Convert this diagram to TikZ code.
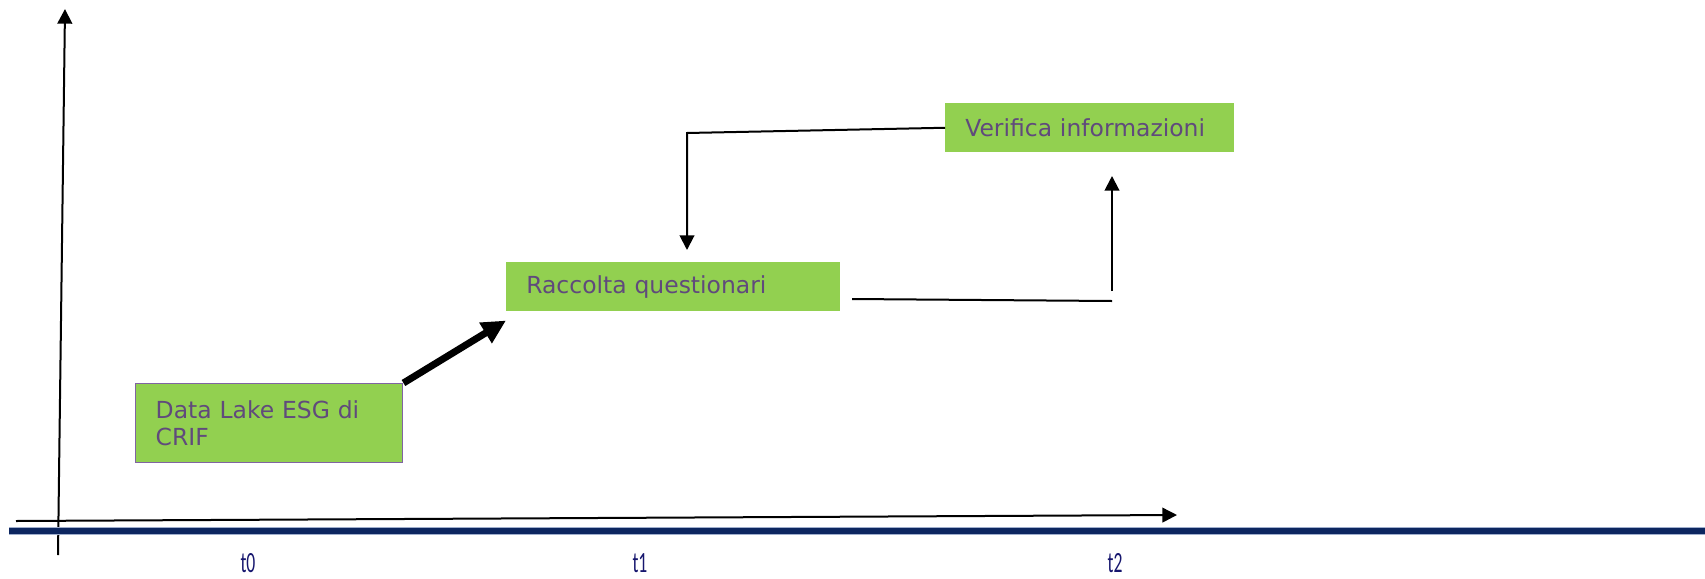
\documentclass[tikz,border=0pt]{standalone}
\usepackage{fontspec}
\setmainfont{DejaVu Sans}
\newfontfamily\labelfont{Carlito}
\usepackage{tikz}
\usetikzlibrary{positioning}
\usetikzlibrary{calc}
\usetikzlibrary{arrows.meta}
\definecolor{boxgreen}{RGB}{146,208,80}
\definecolor{boxtext}{RGB}{96,74,124}
\definecolor{boxborder}{RGB}{128,100,162}
\definecolor{barblue}{RGB}{12,38,96}
\definecolor{baredge}{RGB}{160,175,205}
\definecolor{tnavy}{RGB}{22,22,110}
\tikzset{
    every picture/.append style={
        >={Triangle[length=11pt,width=11pt]}
    }
}
\tikzset{
    stepbox/.style={fill=boxgreen, text=boxtext, anchor=north west, align=left,
        inner xsep=15pt, inner ysep=0pt, font=\fontsize{17.6}{20.25}\selectfont},
    thinarrow/.style={line width=1.5pt, ->},
    timelabel/.style={text=tnavy, anchor=base, inner sep=0pt, font=\labelfont\fontsize{22}{22}\selectfont},
}

\begin{document}
\begin{tikzpicture}[x=0.75pt, y=-0.75pt]
		\useasboundingbox (0,0) rectangle (1705,578);
		% boxes
		\node[stepbox, draw=boxborder, line width=1.1pt, minimum width=200.25pt, minimum height=59.25pt, text width=170.25pt] (datalake) at (135,383) {Data Lake ESG di\\CRIF};
		\node[stepbox, minimum width=250.5pt, minimum height=36.75pt, text width=220.5pt] (raccolta) at (506,262) {\raisebox{-2pt}{Raccolta questionari}};
		\node[stepbox, minimum width=216.75pt, minimum height=36.75pt, text width=186.75pt] (verifica) at (945,103) {\raisebox{-1pt}{Verifica informazioni}};
		
		% axes
		\coordinate (ybot) at (58,555);
		\coordinate (ytop) at (65,9);
		\coordinate (xleft) at (16,521);
		\coordinate (xright) at (1177,515);
		\draw[thinarrow] (ybot) -- (ytop);
		\draw[thinarrow] (xleft) -- (xright);
		\coordinate (barleft) at (9,531);
		\coordinate (barright) at (1705,531);
		\draw[baredge, line width=5.5pt] (barleft) -- (barright);
		\draw[barblue, line width=4pt] (barleft) -- (barright);
		
		% connectors
		\draw[line width=5.25pt, -{Triangle[length=18pt,width=17pt]}] (datalake.north east) -- ($(raccolta.south west)+(0,9)$);
		\coordinate (bend) at (687,133);
		\coordinate (dropend) at (687,250);
		\draw[thinarrow] (verifica.west) -- (bend) -- (dropend);
		\coordinate (runstart) at (852,299);
		\coordinate (runend) at (1112,301);
		\draw[line width=1.5pt] (runstart) -- (runend);
		\coordinate (risestart) at (1112,291);
		\coordinate (riseend) at (1112,176);
		\draw[thinarrow] (risestart) -- (riseend);
		
		% time labels
		\node[timelabel] (t0) at (248,572) {\scalebox{0.6}[1]{t0}};
		\node[timelabel] (t1) at (640,572) {\scalebox{0.6}[1]{t1}};
		\node[timelabel] (t2) at (1115,572) {\scalebox{0.6}[1]{t2}};
		\end{tikzpicture}
\end{document}
